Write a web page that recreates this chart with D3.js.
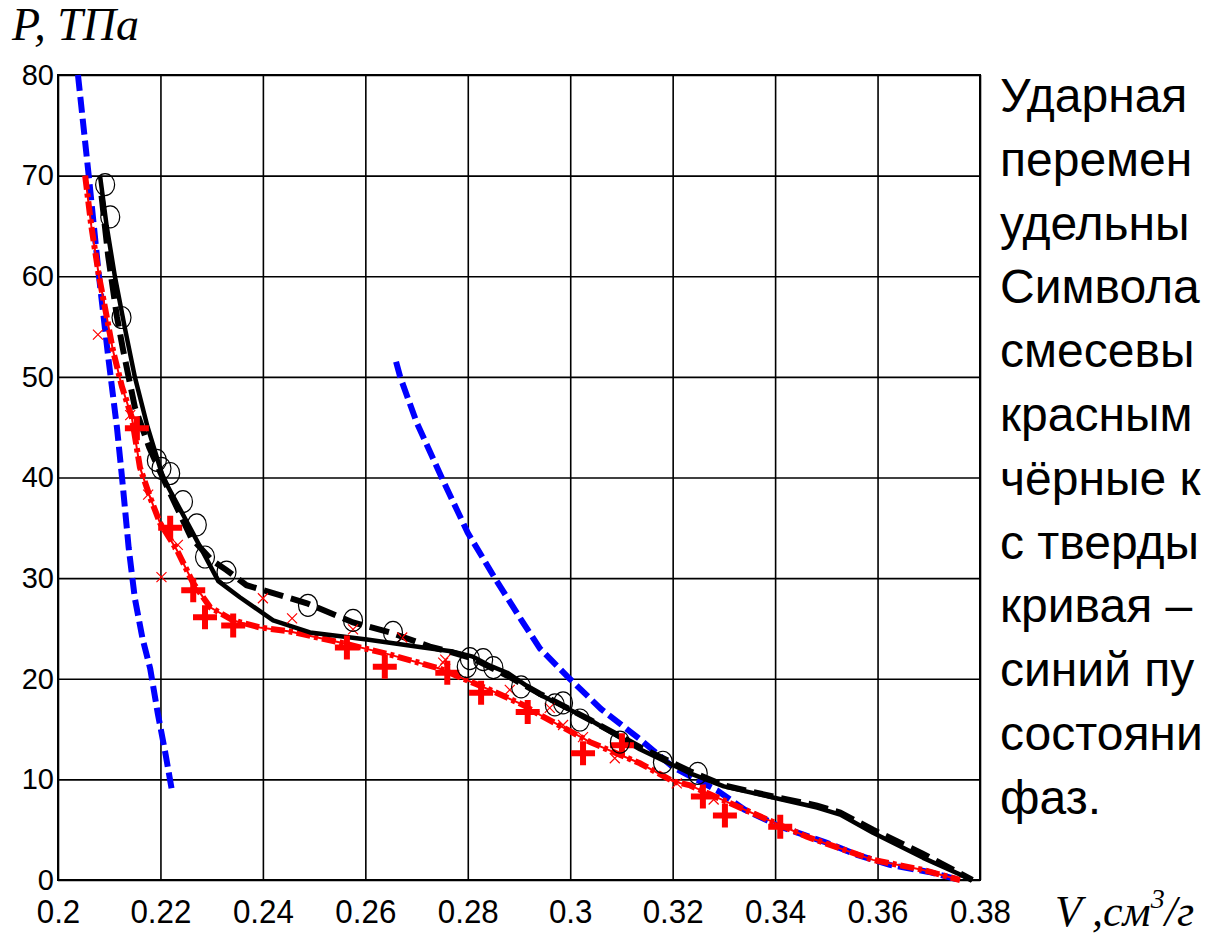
<!DOCTYPE html>
<html>
<head>
<meta charset="utf-8">
<script src="https://cdn.jsdelivr.net/npm/d3@7"></script>
<style>
  html, body { margin: 0; padding: 0; background: #fff; overflow: hidden; }
  svg { display: block; }
</style>
</head>
<body>
<svg id="chart" width="1209" height="940"></svg>
<script>
// Shock Hugoniot curves P(V)

const xTicks = [0.2, 0.22, 0.24, 0.26, 0.28, 0.3, 0.32, 0.34, 0.36, 0.38];
const xTickLabels = ["0.2", "0.22", "0.24", "0.26", "0.28", "0.3", "0.32", "0.34", "0.36", "0.38"];
const yTicks = [0, 10, 20, 30, 40, 50, 60, 70, 80];
const yTickLabels = ["0", "10", "20", "30", "40", "50", "60", "70", "80"];

// Blue dashed: solid-phase branch (high density)
const blueLeft = [
  [0.2039, 80], [0.2060, 70], [0.2080, 60], [0.2098, 52], [0.2115, 45],
  [0.2125, 40], [0.2138, 33], [0.2150, 28], [0.2165, 24], [0.2180, 21],
  [0.2195, 16.5], [0.2210, 12.5], [0.2222, 9]
];
// Blue dashed: second phase branch
const blueRight = [
  [0.2660, 51.5], [0.2668, 50], [0.2700, 45.5], [0.2749, 40], [0.2800, 34.5],
  [0.2853, 30], [0.2905, 25.8], [0.2941, 23], [0.2999, 20], [0.3060, 17],
  [0.3136, 14], [0.3201, 11.2], [0.3287, 8.9], [0.3340, 7], [0.3410, 5.3],
  [0.3501, 3.7], [0.3560, 2.5], [0.3624, 1.5], [0.3700, 0.8], [0.3761, 0]
];
// Black solid curve
const blackSolid = [
  [0.2082, 70], [0.2095, 65], [0.2111, 60], [0.2130, 55], [0.2150, 50],
  [0.2175, 45], [0.2205, 40], [0.2260, 34.8], [0.2313, 29.7], [0.2355, 28.1],
  [0.2420, 25.8], [0.2492, 24.6], [0.2603, 23.9], [0.2713, 23.1], [0.2771, 22.7],
  [0.2810, 22.2], [0.2843, 21.3], [0.2877, 20.6], [0.2941, 18.4], [0.3039, 15.9],
  [0.3136, 13.0], [0.3234, 10.6], [0.3300, 9.3], [0.3396, 8.2], [0.3482, 7.2],
  [0.3527, 6.5], [0.3591, 4.7], [0.3689, 2.2], [0.3785, 0]
];
// Black dashed curve
const blackDashed = [
  [0.2085, 68], [0.2098, 62], [0.2115, 56], [0.2127, 52.7], [0.2150, 47],
  [0.2178, 43], [0.2200, 40.5], [0.2260, 34], [0.2300, 31.8], [0.2329, 30.8],
  [0.2368, 29.3], [0.2420, 28.5], [0.2486, 27.5], [0.2576, 25.6], [0.2648, 24.6],
  [0.2726, 23.2], [0.2771, 22.6], [0.2810, 22.0], [0.2877, 20.3], [0.2941, 18.5],
  [0.3039, 15.9], [0.3136, 13.2], [0.3234, 10.8], [0.3300, 9.4], [0.3396, 8.3],
  [0.3482, 7.4], [0.3527, 6.7], [0.3591, 5.0], [0.3689, 2.6], [0.3785, 0]
];
// Red dash-dot curve
const redCurve = [
  [0.2053, 70], [0.2065, 65], [0.2080, 60], [0.2095, 56], [0.2107, 52.7],
  [0.2125, 49], [0.2144, 46], [0.2160, 41], [0.2180, 38], [0.2199, 35.5],
  [0.2232, 32.8], [0.2264, 29.5], [0.2297, 27.1], [0.2342, 25.8], [0.2394, 25.1],
  [0.2453, 24.7], [0.2551, 23.6], [0.2648, 22.4], [0.2746, 21.0], [0.2810, 19.6],
  [0.2843, 18.9], [0.2908, 17.4], [0.2941, 16.4], [0.3039, 13.7], [0.3136, 11.6],
  [0.3201, 9.8], [0.3234, 9.4], [0.3331, 7.2], [0.3462, 4.3], [0.3591, 2.0],
  [0.3689, 1.0], [0.3761, 0]
];
// Red plus markers
const redPlus = [
  [0.2154, 44.9], [0.2219, 35.0], [0.2264, 28.8], [0.2287, 26.1], [0.2342, 25.3],
  [0.2564, 23.1], [0.2638, 21.2], [0.2760, 20.6], [0.2826, 18.6], [0.2917, 16.7],
  [0.3025, 12.6], [0.3101, 13.4], [0.3259, 8.3], [0.3302, 6.4], [0.3410, 5.3]
];
// Red small cross markers
const redCross = [
  [0.2078, 54.2], [0.2141, 46.2], [0.2176, 38.3], [0.2234, 33.3], [0.2202, 30.1],
  [0.2400, 28.0], [0.2457, 26.0], [0.2576, 24.9], [0.2672, 24.1], [0.2752, 21.6],
  [0.2756, 21.9], [0.2882, 18.9], [0.2960, 17.1], [0.2986, 15.4], [0.3025, 14.2],
  [0.3087, 12.1], [0.3208, 9.6], [0.3280, 8.0]
];
// Black open circles
const blackCircles = [
  [0.2092, 69.1], [0.2102, 65.9], [0.2124, 55.9], [0.2193, 41.7], [0.2202, 40.9],
  [0.2219, 40.4], [0.2244, 37.6], [0.2271, 35.3], [0.2287, 32.1], [0.2329, 30.6],
  [0.2488, 27.3], [0.2576, 25.8], [0.2654, 24.6], [0.2798, 21.2], [0.2804, 22.0],
  [0.2830, 21.9], [0.2850, 21.1], [0.2904, 19.2], [0.2970, 17.4], [0.2986, 17.6],
  [0.3019, 15.9], [0.3097, 13.7], [0.3181, 11.7], [0.3249, 10.6]
];

const sideText = [
  "Ударная", "перемен", "удельны", "Символа", "смесевы", "красным",
  "чёрные к", "с тверды", "кривая –", "синий пу", "состояни", "фаз."
];

const svg = d3.select("#chart");
const plotLeft = 58, plotRight = 980, plotTop = 75, plotBottom = 880;

const x = d3.scaleLinear().domain([0.2, 0.38]).range([plotLeft, plotRight]);
const y = d3.scaleLinear().domain([0, 80]).range([plotBottom, plotTop]);

// Grid + tick labels via axes
const gx = svg.append("g")
  .attr("transform", `translate(0,${plotBottom})`)
  .call(d3.axisBottom(x).tickValues(xTicks)
    .tickFormat((d, i) => xTickLabels[i])
    .tickSizeInner(-(plotBottom - plotTop)).tickSizeOuter(0).tickPadding(20));
gx.select(".domain").remove();
gx.selectAll(".tick line").attr("stroke", "#000").attr("stroke-width", 1.6);
gx.selectAll(".tick text")
  .attr("font-family", "'Liberation Sans', Arial, sans-serif")
  .attr("font-size", 33).attr("fill", "#000")
  .attr("transform", "scale(0.95,1)");

const gy = svg.append("g")
  .attr("transform", `translate(${plotLeft},0)`)
  .call(d3.axisLeft(y).tickValues(yTicks)
    .tickFormat((d, i) => yTickLabels[i])
    .tickSizeInner(-(plotRight - plotLeft)).tickSizeOuter(0).tickPadding(4));
gy.select(".domain").remove();
gy.selectAll(".tick line").attr("stroke", "#000").attr("stroke-width", 1.6);
gy.selectAll(".tick text")
  .attr("font-family", "'Liberation Sans', Arial, sans-serif")
  .attr("font-size", 29).attr("fill", "#000");

// Frame
svg.append("rect")
  .attr("x", plotLeft).attr("y", plotTop)
  .attr("width", plotRight - plotLeft).attr("height", plotBottom - plotTop)
  .attr("fill", "none").attr("stroke", "#000").attr("stroke-width", 2);

const line = d3.line().x(d => x(d[0])).y(d => y(d[1]));
const plot = svg.append("g");

// Blue dashed branches
[blueLeft, blueRight].forEach(s => {
  plot.append("path").attr("d", line(s))
    .attr("fill", "none").attr("stroke", "#0000ff")
    .attr("stroke-width", 6).attr("stroke-dasharray", "16,6");
});

// Red dash-dot curve
plot.append("path").attr("d", line(redCurve))
  .attr("fill", "none").attr("stroke", "#ff0000").attr("stroke-width", 2);
plot.append("path").attr("d", line(redCurve))
  .attr("fill", "none").attr("stroke", "#ff0000")
  .attr("stroke-width", 6).attr("stroke-dasharray", "14,4,4,4");

// Black curves
plot.append("path").attr("d", line(blackDashed))
  .attr("fill", "none").attr("stroke", "#000")
  .attr("stroke-width", 6).attr("stroke-dasharray", "20,8");
plot.append("path").attr("d", line(blackSolid))
  .attr("fill", "none").attr("stroke", "#000")
  .attr("stroke-width", 4.5).attr("stroke-linejoin", "round");

// Red plus markers
const plusSize = 12;
plot.selectAll(".plus").data(redPlus).enter().append("path")
  .attr("class", "plus")
  .attr("d", d => {
    const cx = x(d[0]), cy = y(d[1]);
    return `M${cx - plusSize},${cy}H${cx + plusSize}M${cx},${cy - plusSize}V${cy + plusSize}`;
  })
  .attr("stroke", "#ff0000").attr("stroke-width", 6).attr("fill", "none");

// Red cross markers
const crossSize = 5;
plot.selectAll(".cross").data(redCross).enter().append("path")
  .attr("class", "cross")
  .attr("d", d => {
    const cx = x(d[0]), cy = y(d[1]);
    return `M${cx - crossSize},${cy - crossSize}L${cx + crossSize},${cy + crossSize}` +
           `M${cx - crossSize},${cy + crossSize}L${cx + crossSize},${cy - crossSize}`;
  })
  .attr("stroke", "#ff0000").attr("stroke-width", 1.2).attr("fill", "none");

// Black open circles
plot.selectAll(".circ").data(blackCircles).enter().append("ellipse")
  .attr("class", "circ")
  .attr("cx", d => x(d[0])).attr("cy", d => y(d[1]))
  .attr("rx", 9.5).attr("ry", 11)
  .attr("fill", "none").attr("stroke", "#000").attr("stroke-width", 1.2);

// Axis titles
svg.append("text")
  .attr("x", 12).attr("y", 40)
  .attr("font-family", "'Liberation Serif', 'Times New Roman', serif")
  .attr("font-style", "italic").attr("font-size", 46)
  .text("P, ТПа");

const xl = svg.append("text")
  .attr("x", 1055).attr("y", 926)
  .attr("font-family", "'Liberation Serif', 'Times New Roman', serif")
  .attr("font-style", "italic").attr("font-size", 44);
xl.append("tspan").text("V ,см");
xl.append("tspan").attr("font-size", 28).attr("dy", -18).text("3");
xl.append("tspan").attr("dy", 18).text("/г");

// Side caption
svg.append("g").selectAll("text").data(sideText).enter().append("text")
  .attr("x", 1000).attr("y", (d, i) => 112 + i * 63.8)
  .attr("font-family", "'Liberation Sans', Arial, sans-serif")
  .attr("font-size", 48).attr("fill", "#000")
  .text(d => d);
</script>
</body>
</html>
